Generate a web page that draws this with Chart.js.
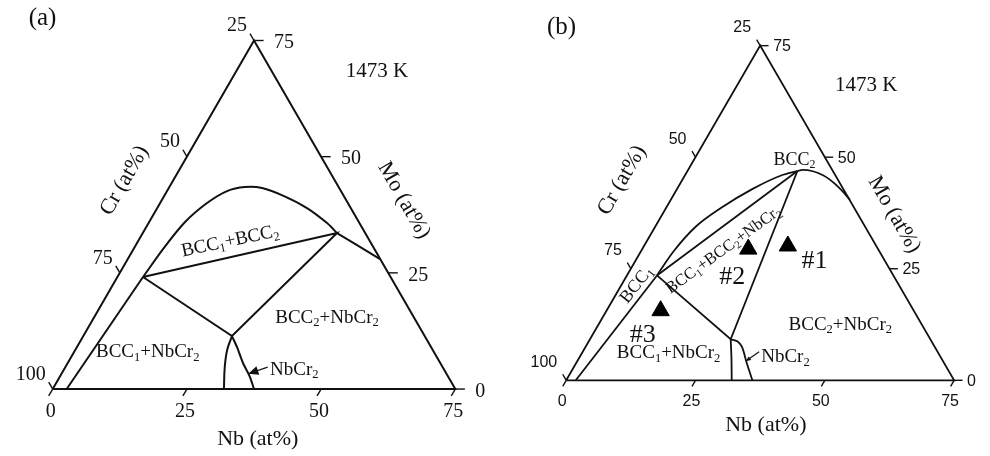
<!DOCTYPE html>
<html>
<head>
<meta charset="utf-8">
<script src="https://cdn.jsdelivr.net/npm/chart.js@4.4.0/dist/chart.umd.min.js"></script>
<style>
  body { margin: 0; background: #fff; }
  .wrap { display: flex; width: 990px; height: 456px; }
  canvas { display: block; }
</style>
</head>
<body>
<div class="wrap">
  <canvas id="panelA" width="495" height="456"></canvas>
  <canvas id="panelB" width="495" height="456"></canvas>
</div>
<script>
// every composition is [Nb, Mo] in at%, Cr is the balance
const nbTicks = [0, 25, 50, 75];
const crTicks = [100, 75, 50, 25];
const moTicks = [0, 25, 50, 75];
const frame = [[0, 0], [75, 0], [0, 75], [0, 0]];

// (a) calculated section
const aBcc1Edge = [[2.6, 0], [4.77, 24.1]];
const aMiscibility = [[4.77, 24.1], [5.49, 30.12], [6.69, 35.93], [8.74, 40.02], [11.18, 42.6], [14.1, 43.46],
                      [17.38, 43.25], [22.34, 41.52], [27.91, 38.94], [33.26, 35.71], [36.19, 33.56]];
const aBcc2Edge = [[36.19, 33.56], [41.21, 30.98], [47.0, 27.97]];
const aTieTriangle = [[4.77, 24.1], [36.19, 33.56], [27.7, 11.4], [4.77, 24.1]];
const aLavesLeft = [[27.7, 11.4], [28.3, 8.4], [29.7, 4.7], [31.9, 0]];
const aLavesRight = [[27.7, 11.4], [29.8, 9.05], [32.65, 5.6], [35.46, 2.58], [37.5, 0]];
const aArrow = [[37.7, 4.7], [34.8, 3.3]];

// (b) section with the alloys
const bBcc1Edge = [[1.85, 0], [5.8, 23.5]];
const bUpper = [[5.8, 23.5], [6.3, 28.8], [7.8, 34.35], [10.6, 38.6], [14.6, 42.9], [18.6, 45.9], [21.25, 46.9]];
const bDome = [[21.25, 46.9], [22.1, 47.15], [26.8, 45.9], [31.0, 43.3], [34.6, 40.5]];
const bTieLine = [[5.8, 23.5], [21.25, 46.9]];
const bThreePhase = [[5.8, 23.5], [27.2, 9.2], [21.25, 46.9]];
const bLavesLeft = [[27.2, 9.2], [29.5, 4.9], [32.0, 0]];
const bLavesRight = [[27.2, 9.2], [28.7, 8.75], [30.25, 7.47], [33.0, 3.84], [36.0, 0]];
const bArrow = [[34.1, 6.4], [32.6, 4.3]];
const alloyNames = ['#1', '#2', '#3'];
const alloyNb = [27.8, 20.5, 10.45];
const alloyMo = [30.1, 29.4, 15.6];

const INK = '#111';
const SERIF = '"Liberation Serif", "Times New Roman", serif';
const SANS = '"Liberation Sans", Arial, sans-serif';
const H = Math.sqrt(3) / 2;

function tern(p) {
  return { x: p[0] + p[1] / 2, y: p[1] * H };
}

function lineSet(points, width, smooth) {
  const ds = {
    data: points.map(tern), showLine: true, fill: false,
    borderColor: INK, borderWidth: width, tension: 0,
    pointRadius: 0, pointHoverRadius: 0
  };
  if (smooth === 'mono') ds.cubicInterpolationMode = 'monotone';
  else if (smooth) ds.tension = smooth;
  return ds;
}

// text with "_n" parts written as subscripts
function richText(ctx, text, x, y, size, family, align, rot) {
  const parts = [];
  text.split(/(_\d)/).forEach(s => {
    if (!s) return;
    parts.push(s[0] === '_' ? { t: s.slice(1), sub: true } : { t: s, sub: false });
  });
  const subSize = size * 0.66;
  let w = 0;
  parts.forEach(p => {
    ctx.font = (p.sub ? subSize : size) + 'px ' + family;
    p.w = ctx.measureText(p.t).width;
    w += p.w;
  });
  ctx.save();
  ctx.translate(x, y);
  ctx.rotate((rot || 0) * Math.PI / 180);
  ctx.textAlign = 'left';
  ctx.textBaseline = 'alphabetic';
  let cx = align === 'left' ? 0 : align === 'right' ? -w : -w / 2;
  const base = size * 0.34;
  parts.forEach(p => {
    ctx.font = (p.sub ? subSize : size) + 'px ' + family;
    ctx.fillText(p.t, cx, p.sub ? base + size * 0.2 : base);
    cx += p.w;
  });
  ctx.restore();
}

const ternaryDecor = {
  id: 'ternaryDecor',
  afterDatasetsDraw(chart, args, o) {
    const ctx = chart.ctx;
    const xs = chart.scales.x, ys = chart.scales.y;
    const pix = c => { const t = tern(c); return { x: xs.getPixelForValue(t.x), y: ys.getPixelForValue(t.y) }; };
    const at = (x, y) => ({ x: xs.getPixelForValue(x), y: ys.getPixelForValue(y) });
    const L = o.tickLen;
    ctx.save();
    ctx.strokeStyle = INK;
    ctx.fillStyle = INK;
    ctx.lineWidth = 1.4;
    const tick = (p, dx, dy) => {
      ctx.beginPath(); ctx.moveTo(p.x, p.y); ctx.lineTo(p.x + dx, p.y + dy); ctx.stroke();
    };
    nbTicks.forEach(v => {
      const p = pix([v, 0]);
      tick(p, -0.5 * L, H * L);
      richText(ctx, String(v), p.x + o.nbLab[0], p.y + o.nbLab[1], o.tickSize, o.tickFont, 'center');
    });
    crTicks.forEach(v => {
      const p = pix([0, 100 - v]);
      tick(p, -0.5 * L, -H * L);
      richText(ctx, String(v), p.x + o.crLab[0], p.y + o.crLab[1], o.tickSize, o.tickFont, 'right');
    });
    moTicks.forEach(v => {
      const p = pix([75 - v, v]);
      tick(p, L * 1.2, 0);
      richText(ctx, String(v), p.x + o.moLab[0], p.y + o.moLab[1], o.tickSize, o.tickFont, 'left');
    });

    // pointer arrow to the NbCr2 field
    const a = pix(o.arrow[0]), b = pix(o.arrow[1]);
    ctx.lineWidth = 1.2;
    ctx.beginPath(); ctx.moveTo(a.x, a.y); ctx.lineTo(b.x, b.y); ctx.stroke();
    const ang = Math.atan2(b.y - a.y, b.x - a.x), hl = o.arrowHead;
    ctx.beginPath();
    ctx.moveTo(b.x, b.y);
    ctx.lineTo(b.x - hl * Math.cos(ang) + hl * 0.45 * Math.sin(ang), b.y - hl * Math.sin(ang) - hl * 0.45 * Math.cos(ang));
    ctx.lineTo(b.x - hl * Math.cos(ang) - hl * 0.45 * Math.sin(ang), b.y - hl * Math.sin(ang) + hl * 0.45 * Math.cos(ang));
    ctx.closePath(); ctx.fill();

    o.texts.forEach(t => {
      const p = at(t.x, t.y);
      richText(ctx, t.text, p.x, p.y, t.size, t.font || SERIF, t.align || 'center', t.rot || 0);
    });
    ctx.restore();
  }
};

function makePanel(id, datasets, xRange, yRange, decor) {
  return new Chart(document.getElementById(id), {
    type: 'scatter',
    data: { datasets: datasets },
    options: {
      responsive: false,
      animation: false,
      events: [],
      layout: { padding: 0 },
      plugins: { legend: { display: false }, tooltip: { enabled: false }, ternaryDecor: decor },
      scales: {
        x: { type: 'linear', display: false, min: xRange[0], max: xRange[1] },
        y: { type: 'linear', display: false, min: yRange[0], max: yRange[1] }
      }
    },
    plugins: [ternaryDecor]
  });
}

makePanel('panelA', [
  lineSet(frame, 2),
  lineSet(aBcc1Edge, 2),
  lineSet(aMiscibility, 2, 0.3),
  lineSet(aBcc2Edge, 2, 0.2),
  lineSet(aTieTriangle, 2),
  lineSet(aLavesLeft, 2, 0.4),
  lineSet(aLavesRight, 2, 0.3)
], [-9.82, 82.4], [-12.48, 72.5], {
  tickLen: 8, tickFont: SERIF, tickSize: 20,
  nbLab: [-2, 21], crLab: [-7, -16], moLab: [20, 1],
  arrow: aArrow, arrowHead: 10,
  texts: [
    { text: '(a)', x: -1.9, y: 69.4, size: 25 },
    { text: '1473 K', x: 60.4, y: 59.5, size: 21 },
    { text: 'Nb (at%)', x: 38.2, y: -9.1, size: 22 },
    { text: 'Cr (at%)', x: 13.1, y: 39.0, size: 22, rot: -60 },
    { text: 'Mo (at%)', x: 65.7, y: 35.3, size: 22, rot: 60 },
    { text: 'BCC_1+BCC_2', x: 33.0, y: 27.8, size: 19, rot: -12 },
    { text: 'BCC_2+NbCr_2', x: 51.1, y: 13.6, size: 19 },
    { text: 'BCC_1+NbCr_2', x: 17.7, y: 7.1, size: 19 },
    { text: 'NbCr_2', x: 40.5, y: 3.9, size: 19, align: 'left' }
  ]
});

const alloySet = {
  data: alloyNb.map((nb, i) => tern([nb, alloyMo[i]])),
  showLine: false, pointStyle: 'triangle', pointRadius: 10, pointHoverRadius: 10,
  pointBackgroundColor: '#000', pointBorderColor: '#000', pointBorderWidth: 1
};

makePanel('panelB', [
  lineSet(frame, 1.8),
  lineSet(bBcc1Edge, 1.8),
  lineSet(bUpper, 1.8, 'mono'),
  lineSet(bDome, 1.8, 'mono'),
  lineSet(bTieLine, 1.8),
  lineSet(bThreePhase, 1.8),
  lineSet(bLavesLeft, 1.8, 0.3),
  lineSet(bLavesRight, 1.8, 0.3),
  alloySet
], [-11.64, 79.81], [-12.56, 71.68], {
  tickLen: 7, tickFont: SANS, tickSize: 16,
  nbLab: [-4, 20], crLab: [-9, -19], moLab: [13, 0],
  arrow: bArrow, arrowHead: 5,
  texts: [
    { text: '(b)', x: -0.9, y: 68.9, size: 25 },
    { text: '1473 K', x: 58.0, y: 57.45, size: 21 },
    { text: 'Nb (at%)', x: 38.6, y: -8.3, size: 22 },
    { text: 'Cr (at%)', x: 10.5, y: 39.0, size: 22, rot: -60 },
    { text: 'Mo (at%)', x: 63.7, y: 32.3, size: 22, rot: 60 },
    { text: 'BCC_2', x: 44.15, y: 43.0, size: 18 },
    { text: 'BCC_1', x: 13.4, y: 18.7, size: 18, rot: -52 },
    { text: 'BCC_1+BCC_2+NbCr_2', x: 30.3, y: 25.5, size: 16.5, rot: -36 },
    { text: 'BCC_2+NbCr_2', x: 53.0, y: 11.1, size: 19 },
    { text: 'BCC_1+NbCr_2', x: 19.8, y: 5.5, size: 19 },
    { text: 'NbCr_2', x: 37.7, y: 4.8, size: 19, align: 'left' },
    { text: alloyNames[0], x: 48.0, y: 23.6, size: 26 },
    { text: alloyNames[1], x: 32.1, y: 20.5, size: 26 },
    { text: alloyNames[2], x: 14.8, y: 9.2, size: 26 }
  ]
});
</script>
</body>
</html>
